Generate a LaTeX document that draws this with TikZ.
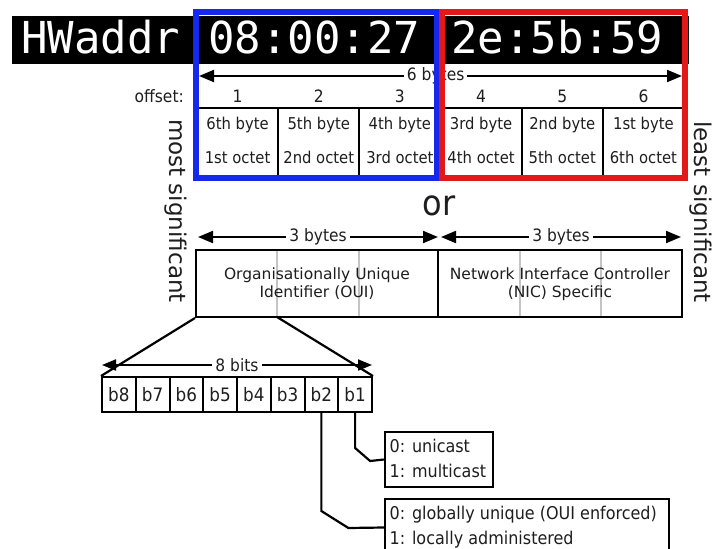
\documentclass[tikz,border=0pt]{standalone}
\usepackage{fontspec}
\usepackage{graphicx}
\setmainfont{DejaVu Sans}
\newfontfamily\hwmono{DejaVu Sans Mono}
\usetikzlibrary{arrows.meta}
\definecolor{hwblue}{RGB}{22,40,235}
\definecolor{hwred}{RGB}{228,24,24}
\definecolor{txtc}{RGB}{30,30,30}
\definecolor{divgray}{RGB}{196,196,196}
\newcommand{\vstr}[1]{\scalebox{1}[1.1]{#1}}
\begin{document}
\begin{tikzpicture}[x=1pt,y=-1pt,
  lab/.style={inner sep=0pt, text=txtc, font=\fontsize{15.5}{18}\selectfont},
  celltxt/.style={inner sep=0pt, text=txtc, font=\fontsize{14.8}{17}\selectfont, anchor=base},
  cellbox/.style={draw, line width=2pt, minimum width=81.17pt, minimum height=68pt, inner sep=0pt},
  hwtxt/.style={inner sep=0pt, text=white, font=\hwmono\fontsize{44}{50}\selectfont, anchor=base west},
  dimarrow/.style={line width=2pt, {Triangle[length=15pt,width=12pt]}-{Triangle[length=15pt,width=12pt]}},
  dimlabel/.style={fill=white, inner xsep=3pt, inner ysep=1pt, text=txtc, font=\fontsize{15.5}{18}\selectfont},
  fieldbox/.style={draw, line width=2pt, inner sep=0pt, minimum height=67pt},
  fieldtxt/.style={inner sep=0pt, text=txtc, font=\fontsize{15.5}{18}\selectfont, anchor=base},
  bitbox/.style={draw, line width=2pt, inner sep=0pt, minimum width=33.75pt, minimum height=35pt, text=txtc, font=\fontsize{16.8}{18}\selectfont},
  infobox/.style={draw, line width=2.4pt, inner sep=0pt},
  infotxt/.style={inner sep=0pt, text=txtc, font=\fontsize{16}{18}\selectfont, anchor=base west},
  conn/.style={line width=2.2pt},
  sidetxt/.style={inner sep=0pt, text=txtc, rotate=-90, font=\fontsize{23}{26}\selectfont},
]
\useasboundingbox (0,0) rectangle (713,549);
\fill[white] (0,0) rectangle (713,549);

% black header bar
\node[fill=black, inner sep=0pt, minimum width=677pt, minimum height=48pt] (bar) at (350.5,40) {};
\node[hwtxt] (hw) at (21,53) {HWaddr};
\node[hwtxt] (oui3) at (208,53) {08:00:27};
\node[hwtxt] (nic3) at (451,53) {2e:5b:59};

% 6 bytes dimension
\coordinate (sixL) at (199,76);
\coordinate (sixR) at (682,76);
\draw[dimarrow] (sixL) -- (sixR) node[dimlabel, pos=0.49] (sixlab) {\vstr{6 bytes}};

% offset row and byte table
\node[lab, anchor=base east] (offlab) at (184,102) {\vstr{offset:}};
\foreach \i/\by/\oc in {1/6th/1st, 2/5th/2nd, 3/4th/3rd, 4/3rd/4th, 5/2nd/5th, 6/1st/6th}{
  \pgfmathsetmacro{\cx}{197+81.17*(\i-0.5)}
  \node[lab, anchor=base] (off\i) at (\cx,102) {\vstr{\i}};
  \node[cellbox] (c\i) at (\cx,142) {};
  \node[celltxt] (cb\i) at (\cx,129) {\vstr{\by{} byte}};
  \node[celltxt] (co\i) at (\cx,163) {\vstr{\oc{} octet}};
}

% coloured frames
\node[draw=hwblue, line width=6pt, inner sep=0pt, minimum width=241pt, minimum height=166pt] (bluebox) at (316.5,95) {};
\node[draw=hwred, line width=6pt, inner sep=0pt, minimum width=243pt, minimum height=166pt] (redbox) at (563.5,95) {};

% side labels
\node[sidetxt] (most) at (176,211) {most significant};
\node[sidetxt] (least) at (701,212) {least significant};

\node[inner sep=0pt, text=txtc, font=\fontsize{32}{36}\selectfont, anchor=base] (or) at (439,215) {\vstr{or}};

% 3 bytes dimensions
\coordinate (tbL1) at (198,237);
\coordinate (tbR1) at (438,237);
\coordinate (tbL2) at (441,237);
\coordinate (tbR2) at (681,237);
\draw[dimarrow] (tbL1) -- (tbR1) node[dimlabel, midway] (tblab1) {\vstr{3 bytes}};
\draw[dimarrow] (tbL2) -- (tbR2) node[dimlabel, midway] (tblab2) {\vstr{3 bytes}};

% OUI / NIC boxes
\draw[divgray, line width=1.5pt] (277,251) -- (277,316) (359,251) -- (359,316)
  (520,251) -- (520,316) (601,251) -- (601,316);
\node[fieldbox, minimum width=242pt] (oui) at (317,283.5) {};
\node[fieldbox, minimum width=244pt] (nic) at (560,283.5) {};
\node[fieldtxt] (oui1t) at (317,279) {Organisationally Unique};
\node[fieldtxt] (oui2t) at (317,297) {Identifier (OUI)};
\node[fieldtxt] (nic1t) at (560,279) {Network Interface Controller};
\node[fieldtxt] (nic2t) at (560,297) {(NIC) Specific};
\coordinate (ouiB1) at (277,317);

% bits
\foreach \k in {8,...,1}{
  \pgfmathsetmacro{\bx}{102+33.75*(8-\k+0.5)}
  \node[bitbox] (bit\k) at (\bx,394.5) {\vstr{b\k}};
}
\draw[conn] (oui.south west) -- (bit8.north west);
\draw[conn] (ouiB1) -- (bit1.north east);
\coordinate (ebL) at (102,365);
\coordinate (ebR) at (372,365);
\draw[line width=2pt, {Triangle[length=14pt,width=11pt]}-{Triangle[length=14pt,width=11pt]}] (ebL) -- (ebR)
  node[dimlabel, midway] (eblab) {\vstr{8 bits}};

% info boxes
\node[infobox, minimum width=108pt, minimum height=55pt] (info1) at (439,459.5) {};
\node[infotxt] (i1a) at (389.5,452) {\vstr{0: unicast}};
\node[infotxt] (i1b) at (389.5,477) {\vstr{1: multicast}};
\node[infobox, minimum width=284pt, minimum height=57pt] (info2) at (527,527.5) {};
\node[infotxt] (i2a) at (389.5,519) {\vstr{0: globally unique (OUI enforced)}};
\node[infotxt] (i2b) at (389.5,544) {\vstr{1: locally administered}};

\draw[conn] (bit1.south) -- ++(0,35) -- ++(15,13) -- (info1.west);
\draw[conn] (bit2.south) -- ++(0,98) -- ++(27,17) -- (info2.west);
\end{tikzpicture}
\end{document}
